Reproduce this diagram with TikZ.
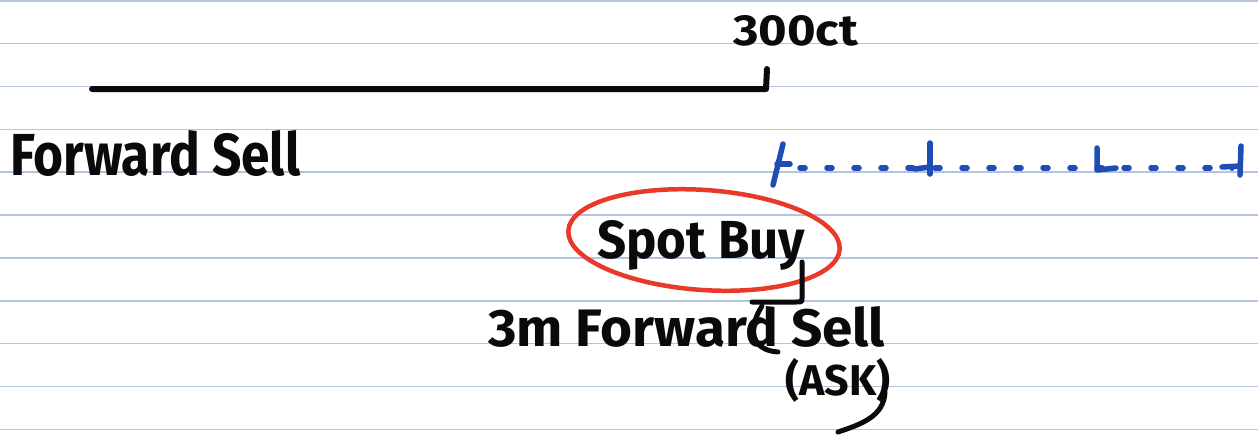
\documentclass[tikz,border=0pt]{standalone}
\usepackage{fontspec}
\setmainfont{Fira Sans}
\usepackage{graphicx}
\usetikzlibrary{calc}
\definecolor{ruling}{HTML}{B4C3DE}
\definecolor{ink}{HTML}{0A0A0A}
\definecolor{pen}{HTML}{1E4DB5}
\definecolor{marker}{HTML}{E8392A}
% handwritten-looking label: bold text stretched to a given width and height
\newcommand{\hw}[3]{\resizebox{#1}{#2}{\bfseries #3}}
\tikzset{
  paperline/.style={ruling, line width=1.6pt},
  inkstroke/.style={ink, line width=5.5pt, line cap=round, line join=round},
  penstroke/.style={pen, line width=5.5pt, line cap=round, line join=round},
  label/.style={ink, inner sep=0pt, anchor=base west},
  circled/.style={marker, line width=4.5pt}
}
\begin{document}
\begin{tikzpicture}[x=1pt,y=-1pt]
\useasboundingbox (0,0) rectangle (1258,440);
\fill[white] (0,0) rectangle (1258,440);
% ruled paper
\foreach \k in {0,...,10}
  \draw[paperline] (0,{0.8+42.85*\k}) -- (1258,{0.8+42.85*\k});

% time line with end tick
\coordinate (lineA) at (92,89);
\coordinate (lineB) at (766,89);
\coordinate (tickTop) at (767,69);
\draw[inkstroke, line width=6pt] (lineA) -- (lineB) -- (tickTop);
\node[label] (date) at (733,45) {\hw{125pt}{30pt}{300ct}};

\node[label] (fwd) at (10,175) {\hw{290pt}{45pt}{Forward Sell}};

% dotted continuation in blue pen
\coordinate (dA) at (800,168);
\coordinate (dB) at (1232,168);
\draw[penstroke, dash pattern=on 5pt off 22pt] (dA) -- (dB);
\coordinate (t1a) at (783,144);
\coordinate (t1b) at (773,185);
\coordinate (t1c) at (790,164);
\draw[penstroke] (t1a) -- (t1b);
\draw[penstroke] (777,164) -- (t1c);
\coordinate (t2a) at (930,143);
\coordinate (t2b) at (930,174);
\draw[penstroke] (t2a) -- (t2b);
\draw[penstroke] (915,169) -- (930,167);
\coordinate (t3a) at (1097,148);
\coordinate (t3b) at (1097,170);
\draw[penstroke] (t3a) -- (t3b) -- (1116,168);
\coordinate (t4a) at (1241,146);
\coordinate (t4b) at (1240,175);
\draw[penstroke] (t4a) -- (t4b);
\draw[penstroke] (1222,167) -- (1240,166);

% circled spot trade
\node[label] (spot) at (597,258) {\hw{208pt}{38pt}{Spot Buy}};
\draw[circled] (704,240) ellipse[x radius=136, y radius=50, rotate=-4];

\node[label] (fwd3) at (488,346) {\hw{397pt}{40pt}{3m Forward Sell}};
\node[label] (ask) at (785,395) {\hw{105pt}{37pt}{(ASK)}};
\coordinate (askTail) at (838,432);
\draw[inkstroke, line width=5pt] (885,392) .. controls (884,416) and (862,424) .. (askTail);

% bracket linking the spot leg to the forward leg
\coordinate (brTop) at (802,262);
\coordinate (brCorner) at (802,302);
\coordinate (brLeft) at (752,302);
\draw[inkstroke, line width=5pt] (brTop) -- ($(brCorner)+(0,-4)$) .. controls (brCorner) .. ($(brCorner)+(-6,0)$) -- (brLeft);
\coordinate (brLow) at (778,352);
\draw[inkstroke, line width=5pt] (762,306) .. controls (748,328) and (750,350) .. (brLow);
\end{tikzpicture}
\end{document}
